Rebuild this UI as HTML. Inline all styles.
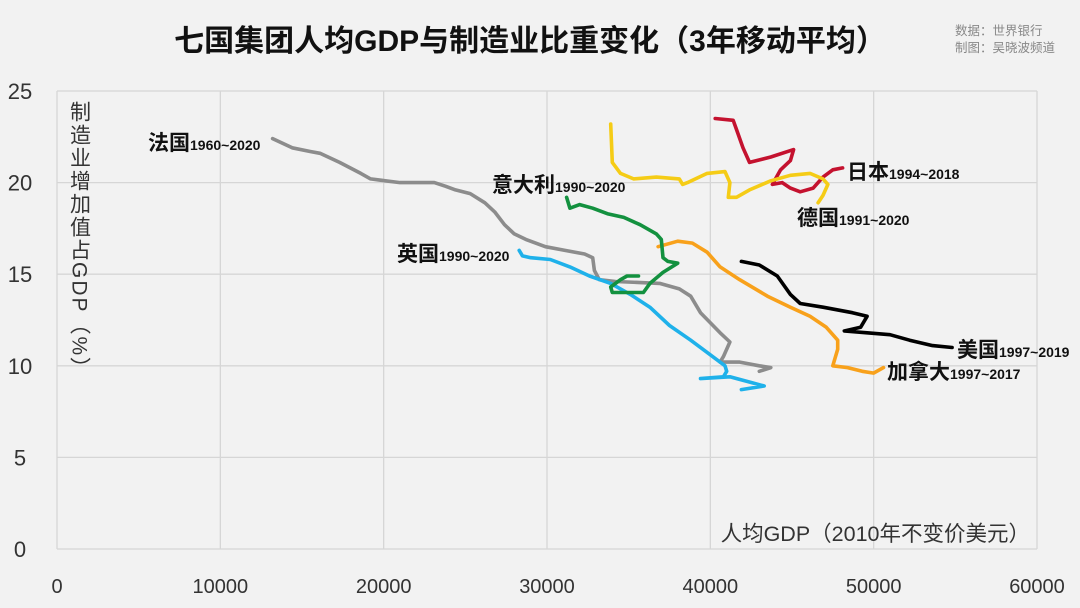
<!DOCTYPE html>
<html><head><meta charset="utf-8">
<style>
html,body{margin:0;padding:0;background:#f2f2f2;}
svg{display:block;font-family:"Liberation Sans","Noto Sans CJK SC",sans-serif;}
</style></head>
<body>
<svg id="chart" width="1080" height="608" viewBox="0 0 1080 608" xmlns="http://www.w3.org/2000/svg">
<rect x="0" y="0" width="1080" height="608" fill="#f2f2f2"/>
<text x="530" y="51" text-anchor="middle" font-size="30" font-weight="bold" fill="#111">七国集团人均GDP与制造业比重变化（3年移动平均）</text>
<text x="955" y="35" font-size="12.5" fill="#888">数据：世界银行</text>
<text x="955" y="52" font-size="12.5" fill="#888">制图：吴晓波频道</text>
<g id="grid"></g>
<g id="axes"></g>
<text x="79" y="101" font-size="21" fill="#333" style="writing-mode:vertical-rl" letter-spacing="2">制造业增加值占GDP（%）</text>
<text x="1030" y="541" text-anchor="end" font-size="21.5" fill="#333">人均GDP（2010年不变价美元）</text>
<g id="series"></g>
<g id="labels"></g>
</svg>
<script>
const xTicks = [0,10000,20000,30000,40000,50000,60000];
const yTicks = [0,5,10,15,20,25];
const franceGdp = [13200,14400,15500,16100,17300,18600,19200,20100,21000,22200,23100,23800,24400,25300,26200,26800,27400,28000,28700,29900,31100,32300,32800,32900,33200,34200,36900,38100,38800,39400,40600,41200,40800,40600,41800,43000,43700,43000];
const franceShare = [22.4,21.9,21.7,21.6,21.1,20.5,20.2,20.1,20.0,20.0,20.0,19.8,19.6,19.4,18.9,18.4,17.7,17.2,16.9,16.5,16.3,16.1,15.9,15.2,14.7,14.6,14.5,14.2,13.8,12.9,11.8,11.3,10.5,10.2,10.2,10.0,9.9,9.7];
const ukGdp = [28300,28500,29000,30200,31400,32600,33900,35100,36300,37500,38800,40000,40900,41000,40800,39400,41200,43300,41900];
const ukShare = [16.3,16.0,15.9,15.8,15.4,14.9,14.5,13.9,13.2,12.2,11.4,10.6,10.0,9.7,9.4,9.3,9.4,8.9,8.7];
const italyGdp = [31200,31400,32000,32800,33700,34700,35700,36700,37000,37100,37400,38000,37100,36300,35900,34900,34000,33900,34500,34900,35600];
const italyShare = [19.2,18.6,18.8,18.6,18.3,18.1,17.7,17.2,16.9,15.9,15.7,15.6,15.1,14.5,14.0,14.0,14.0,14.3,14.7,14.9,14.9];
const germanyGdp = [33900,34000,34500,35300,36700,38100,38300,38600,39800,40900,41200,41100,41600,42400,43700,44900,46100,46900,47200,46900,46600];
const germanyShare = [23.2,21.1,20.5,20.2,20.3,20.2,19.9,20.0,20.5,20.6,20.0,19.2,19.2,19.6,20.1,20.4,20.5,20.2,19.9,19.3,18.9];
const japanGdp = [40300,41400,41600,42000,42400,43700,45100,44900,44300,43800,44400,44900,45500,46300,46900,47500,48100];
const japanShare = [23.5,23.4,22.9,21.9,21.1,21.4,21.8,21.2,20.7,19.9,20.0,19.7,19.5,19.7,20.3,20.7,20.8];
const canadaGdp = [36800,38000,38900,39800,40600,41800,43500,44900,46100,47100,47800,47800,47500,48400,49300,50000,50600];
const canadaShare = [16.5,16.8,16.7,16.2,15.4,14.7,13.8,13.2,12.7,12.1,11.4,10.9,10.0,9.9,9.7,9.6,9.9];
const usaGdp = [41900,43000,44100,44900,45500,46900,48700,49600,49200,48200,49600,51000,52200,53600,54800];
const usaShare = [15.7,15.5,14.9,13.9,13.4,13.2,12.9,12.7,12.1,11.9,11.8,11.7,11.4,11.1,11.0];

const NS='http://www.w3.org/2000/svg';
const L=57,R=1037,T=91,B=549;
function xs(v){return L+(v-0)/60000*(R-L);}
function ys(v){return B-(v-0)/25*(B-T);}
function mk(tag,attrs,parent){const e=document.createElementNS(NS,tag);for(const k in attrs)e.setAttribute(k,attrs[k]);parent.appendChild(e);return e;}
const grid=document.getElementById('grid'),axes=document.getElementById('axes'),series=document.getElementById('series'),labels=document.getElementById('labels');
xTicks.forEach(t=>{
  const l=mk('line',{x1:xs(t),x2:xs(t),y1:T,y2:B,stroke:'#d6d6d6','stroke-width':1.3},grid);
  
  
  const tx=mk('text',{x:xs(t),y:593,'text-anchor':'middle','font-size':20,fill:'#333'},axes);
  tx.textContent=t;
  
  
});
yTicks.forEach(t=>{
  const l=mk('line',{x1:L,x2:R,y1:ys(t),y2:ys(t),stroke:'#d6d6d6','stroke-width':1.3},grid);
  
  
  const tx=mk('text',{x:20,y:ys(t)+8,'text-anchor':'middle','font-size':22,fill:'#333'},axes);
  tx.textContent=t;
  
  
});
function drawLine(g,s,color,name){
  const d=g.map((v,i)=>(i?'L':'M')+xs(v).toFixed(1)+','+ys(s[i]).toFixed(1)).join(' ');
  const p=mk('path',{d:d,fill:'none',stroke:color,'stroke-width':3.6,'stroke-linejoin':'round','stroke-linecap':'round'},series);
  
  
}
drawLine(franceGdp,franceShare,'#8c8c8c','france-line');
drawLine(ukGdp,ukShare,'#1fb1ea','uk-line');
drawLine(canadaGdp,canadaShare,'#f8a11b','canada-line');
drawLine(italyGdp,italyShare,'#13913f','italy-line');
drawLine(japanGdp,japanShare,'#c4122f','japan-line');
drawLine(germanyGdp,germanyShare,'#f5cc16','germany-line');
drawLine(usaGdp,usaShare,'#000000','usa-line');
const labelData=[['法国','1960~2020',148,150,'france-label'],['意大利','1990~2020',492,192,'italy-label'],['英国','1990~2020',397,261,'uk-label'],['日本','1994~2018',847,179,'japan-label'],['德国','1991~2020',797,225,'germany-label'],['美国','1997~2019',957,357,'usa-label'],['加拿大','1997~2017',887,379,'canada-label']];
labelData.forEach(a=>{
  const t=mk('text',{x:a[2],y:a[3],fill:'#111'},labels);
  
  
  const s1=mk('tspan',{'font-size':21,'font-weight':'bold'},t);s1.textContent=a[0];
  const s2=mk('tspan',{'font-size':14,'font-weight':'bold'},t);s2.textContent=a[1];
});
</script>
</body></html>
